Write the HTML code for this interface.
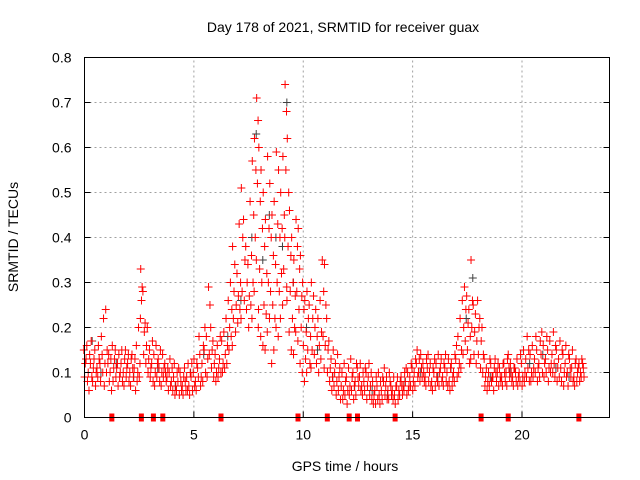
<!DOCTYPE html>
<html><head><meta charset="utf-8"><style>
body{margin:0;background:#fff;}
svg{display:block;font-family:"Liberation Sans",sans-serif;}
</style></head><body>
<svg id="chart" width="640" height="480" viewBox="0 0 640 480">
<rect width="640" height="480" fill="#fff"/>
<g id="grid"></g>
<g id="black"></g>
<g id="red"></g>
<g id="markers"></g>
<rect x="84.5" y="57.5" width="525" height="360" fill="none" stroke="#000" stroke-width="1"/>
<g id="ticks"></g>
<text x="343" y="32" font-size="14" text-anchor="middle">Day 178 of 2021, SRMTID for receiver guax</text>
<text x="345" y="471" font-size="14" text-anchor="middle">GPS time / hours</text>
<text x="18" y="237" font-size="14" text-anchor="middle" transform="rotate(-90 18 237)">SRMTID / TECUs</text>
</svg>
<script>
const xTicks=[0,5,10,15,20];
const yTicks=[0,0.1,0.2,0.3,0.4,0.5,0.6,0.7,0.8];
const yTickLabels=["0","0.1","0.2","0.3","0.4","0.5","0.6","0.7","0.8"];
const markerHours=[1.25,2.6,3.15,3.58,6.24,9.76,11.1,12.1,12.48,14.2,18.13,19.37,22.6];
const hours=[0.0,0.1,0.2,0.3,0.4,0.5,0.6,0.7,0.8,0.9,1.0,1.1,1.2,1.3,1.4,1.5,1.6,1.7,1.8,1.9,2.0,2.1,2.2,2.3,2.4,2.5,2.6,2.7,2.8,2.9,3.0,3.1,3.2,3.3,3.4,3.5,3.6,3.7,3.8,3.9,4.0,4.1,4.2,4.3,4.4,4.5,4.6,4.7,4.8,4.9,5.0,5.1,5.2,5.3,5.4,5.5,5.6,5.7,5.8,5.9,6.0,6.1,6.2,6.3,6.4,6.5,6.6,6.7,6.8,6.9,7.0,7.1,7.2,7.3,7.4,7.5,7.6,7.7,7.8,7.9,8.0,8.1,8.2,8.3,8.4,8.5,8.6,8.7,8.8,8.9,9.0,9.1,9.2,9.3,9.4,9.5,9.6,9.7,9.8,9.9,10.0,10.1,10.2,10.3,10.4,10.5,10.6,10.7,10.8,10.9,11.0,11.1,11.2,11.3,11.4,11.5,11.6,11.7,11.8,11.9,12.0,12.1,12.2,12.3,12.4,12.5,12.6,12.7,12.8,12.9,13.0,13.1,13.2,13.3,13.4,13.5,13.6,13.7,13.8,13.9,14.0,14.1,14.2,14.3,14.4,14.5,14.6,14.7,14.8,14.9,15.0,15.1,15.2,15.3,15.4,15.5,15.6,15.7,15.8,15.9,16.0,16.1,16.2,16.3,16.4,16.5,16.6,16.7,16.8,16.9,17.0,17.1,17.2,17.3,17.4,17.5,17.6,17.7,17.8,17.9,18.0,18.1,18.2,18.3,18.4,18.5,18.6,18.7,18.8,18.9,19.0,19.1,19.2,19.3,19.4,19.5,19.6,19.7,19.8,19.9,20.0,20.1,20.2,20.3,20.4,20.5,20.6,20.7,20.8,20.9,21.0,21.1,21.2,21.3,21.4,21.5,21.6,21.7,21.8,21.9,22.0,22.1,22.2,22.3,22.4,22.5,22.6,22.7,22.8];
const srmtid=[
[.15,.12,.09],[.13,.08,.16],[.10,.14,.06],[.12,.09,.17],[.08,.13,.11],[.15,.10,.07],[.11,.16,.09],[.13,.08,.12],[.18,.10,.14],[.22,.12,.07],
[.24,.15,.10],[.12,.08,.14],[.10,.06,.13],[.16,.11,.08],[.13,.09,.15],[.11,.07,.12],[.14,.10,.09],[.12,.08,.15],[.10,.13,.07],[.15,.11,.09],
[.12,.08,.14],[.10,.13,.07],[.14,.09,.11],[.11,.06,.13],[.16,.10,.08],[.20,.12,.09],[.33,.29,.26,.22],[.28,.19,.14],[.21,.16,.12],[.20,.13,.10],
[.15,.11,.09],[.12,.08,.17],[.14,.10,.07],[.16,.12,.09],[.13,.08,.11],[.15,.10,.07],[.14,.11,.09],[.12,.08,.10],[.09,.06,.11],[.10,.07,.13],
[.08,.06,.11],[.09,.05,.12],[.07,.10,.06],[.08,.05,.11],[.10,.06,.08],[.07,.09,.05],[.11,.06,.08],[.09,.12,.06],[.07,.10,.05],[.09,.06,.12],
[.10,.07,.13],[.08,.12,.06],[.11,.18,.09],[.14,.09,.07],[.12,.16,.08],[.15,.10,.20],[.18,.13,.09],[.29,.25,.14],[.20,.15,.11],[.17,.12,.09],
[.14,.10,.08],[.16,.11,.09],[.13,.10,.18],[.17,.12,.10],[.19,.14,.11],[.22,.16,.12],[.26,.20,.15],[.30,.24,.18],[.38,.28,.22,.16],[.34,.25,.19],
[.32,.27,.21],[.43,.30,.24],[.51,.40,.28,.22],[.44,.35,.26],[.38,.30,.24],[.34,.27,.20],[.48,.36,.25],[.57,.45,.30,.22],[.62,.55,.40,.28],[.71,.66,.52,.35,.20],
[.60,.48,.33,.24],[.55,.42,.30,.18],[.50,.38,.25,.16],[.44,.32,.23,.15],[.58,.42,.30,.19],[.52,.40,.28,.22],[.45,.36,.25,.12],[.48,.34,.22,.15],[.59,.43,.30,.20],[.55,.40,.28,.18],
[.50,.42,.32,.22],[.58,.45,.33,.25],[.74,.68,.55,.40,.29],[.62,.50,.38,.26],[.46,.36,.28,.19],[.40,.30,.22,.15],[.35,.27,.20,.14],[.44,.38,.28,.19],[.42,.33,.24,.17],[.36,.27,.20,.12],
[.30,.24,.16,.10],[.26,.19,.13,.08],[.28,.22,.15,.10],[.25,.18,.12],[.30,.22,.15,.11],[.27,.20,.14],[.24,.18,.12],[.22,.16,.10],[.26,.19,.13],[.35,.28,.18],
[.34,.25,.16,.11],[.22,.15,.10],[.17,.11,.08],[.13,.09,.06],[.15,.10,.07],[.12,.08,.05],[.14,.09,.06],[.11,.07,.04],[.10,.06,.04],[.12,.08,.05],
[.09,.06,.03],[.11,.07,.05],[.13,.09,.06],[.10,.07,.04],[.08,.12,.05],[.11,.07,.09],[.09,.06,.12],[.07,.10,.05],[.08,.11,.06],[.10,.07,.04],
[.09,.05,.12],[.07,.04,.10],[.08,.05,.03],[.06,.09,.03],[.07,.10,.04],[.05,.08,.03],[.06,.09,.04],[.08,.05,.11],[.07,.04,.09],[.06,.10,.04],
[.08,.05,.07],[.06,.09,.04],[.05,.07,.03],[.07,.04,.09],[.06,.08,.05],[.09,.05,.07],[.07,.10,.06],[.08,.05,.11],[.10,.07,.06],[.09,.12,.07],
[.11,.08,.06],[.10,.13,.07],[.12,.09,.15],[.10,.08,.13],[.14,.09,.11],[.12,.08,.10],[.09,.13,.07],[.11,.08,.14],[.10,.07,.12],[.08,.11,.06],
[.10,.07,.13],[.12,.08,.09],[.14,.10,.07],[.11,.08,.13],[.09,.12,.07],[.11,.08,.14],[.10,.13,.07],[.08,.11,.06],[.12,.09,.07],[.10,.14,.08],
[.13,.09,.16],[.18,.12,.10],[.22,.15,.11],[.26,.20,.14],[.29,.24,.17],[.27,.21,.15],[.24,.18,.12],[.35,.26,.20,.13],[.25,.19,.14],[.23,.17,.12],
[.26,.20,.14],[.22,.17,.11],[.20,.14,.10],[.13,.09,.07],[.11,.08,.06],[.10,.13,.07],[.12,.09,.08],[.09,.11,.06],[.13,.08,.10],[.10,.07,.12],
[.11,.08,.09],[.09,.12,.07],[.12,.08,.10],[.10,.13,.07],[.14,.09,.11],[.12,.08,.10],[.09,.11,.07],[.11,.08,.10],[.13,.09,.07],[.10,.14,.08],
[.12,.09,.07],[.15,.10,.08],[.13,.18,.09],[.11,.08,.15],[.14,.10,.08],[.16,.11,.09],[.13,.18,.10],[.15,.11,.08],[.12,.17,.09],[.14,.10,.19],
[.16,.12,.09],[.13,.18,.10],[.15,.11,.08],[.17,.12,.10],[.14,.19,.10],[.12,.16,.09],[.15,.11,.08],[.13,.17,.09],[.11,.15,.08],[.14,.10,.07],
[.12,.09,.16],[.10,.14,.07],[.13,.09,.11],[.11,.08,.15],[.09,.12,.07],[.13,.10,.08],[.11,.08,.12],[.10,.13,.09],[.12,.09,.11]];
const blackHours=[0.35,0.75,1.45,2.25,3.35,4.15,4.85,5.45,6.55,7.15,7.65,7.85,8.15,8.45,8.75,9.05,9.25,9.55,10.15,10.65,11.35,12.35,13.15,13.85,14.65,15.35,16.15,16.75,17.45,17.75,18.55,19.45,20.35,20.95,21.55,22.15];
const blackValues=[.17,.10,.12,.09,.11,.07,.10,.14,.18,.26,.40,.63,.35,.45,.40,.38,.70,.30,.20,.15,.09,.07,.06,.05,.08,.10,.09,.11,.22,.31,.09,.10,.12,.14,.11,.09];

const X0=84.5,X1=609.5,Y0=417.5,Y1=57.5,XMAX=24,YMAX=0.8;
function xs(h){return X0+(X1-X0)*h/XMAX;}
function ys(v){return Y0-(Y0-Y1)*v/YMAX;}
const NS="http://www.w3.org/2000/svg";
function mk(tag,attrs,parent){const e=document.createElementNS(NS,tag);for(const k in attrs)e.setAttribute(k,attrs[k]);parent.appendChild(e);return e;}
const grid=document.getElementById('grid'),ticks=document.getElementById('ticks');
xTicks.forEach(t=>{
  const x=xs(t);
  if(t>0){const g=mk('line',{x1:x,x2:x,y1:Y0,y2:Y1,stroke:'#a0a0a0','stroke-dasharray':'2,3'},grid);
  
  }
  const l=mk('line',{x1:x,x2:x,y1:Y0,y2:Y0-6,stroke:'#000'},ticks);
  
  
  const tx=mk('text',{x:x,y:Y0+22,'font-size':14,'text-anchor':'middle'},ticks);tx.textContent=String(t);
  
  
});
yTicks.forEach((t,i)=>{
  const y=ys(t);
  if(t>0&&t<YMAX){const g=mk('line',{x1:X0,x2:X1,y1:y,y2:y,stroke:'#a0a0a0','stroke-dasharray':'2,3'},grid);
  
  }
  const l=mk('line',{x1:X0,x2:X0+6,y1:y,y2:y,stroke:'#000'},ticks);
  
  
  const l2=mk('line',{x1:X1,x2:X1-6,y1:y,y2:y,stroke:'#000'},ticks);
  
  
  const tx=mk('text',{x:X0-13,y:y+5,'font-size':14,'text-anchor':'end'},ticks);tx.textContent=yTickLabels[i];
  
  
});
function plus(g,h,v,color){
  const x=xs(h),y=ys(v);
  const p=mk('path',{d:`M${x-4},${y}H${x+4}M${x},${y-4}V${y+4}`,stroke:color,'stroke-width':1,fill:'none'},g);
  
  
}
const bg=document.getElementById('black');
blackHours.forEach((h,i)=>plus(bg,h,blackValues[i],'#404040'));
const rg=document.getElementById('red');
const jit=[-0.03,0.035,0.005,-0.045,0.045];
hours.forEach((h,i)=>srmtid[i].forEach((v,j)=>plus(rg,h+jit[j],v,'#ff0000')));
const mg=document.getElementById('markers');
markerHours.forEach(h=>{
  const r=mk('rect',{x:xs(h)-2.5,y:Y0-4,width:5,height:8,fill:'#ff0000'},mg);
  
  
});
</script>
</body></html>
